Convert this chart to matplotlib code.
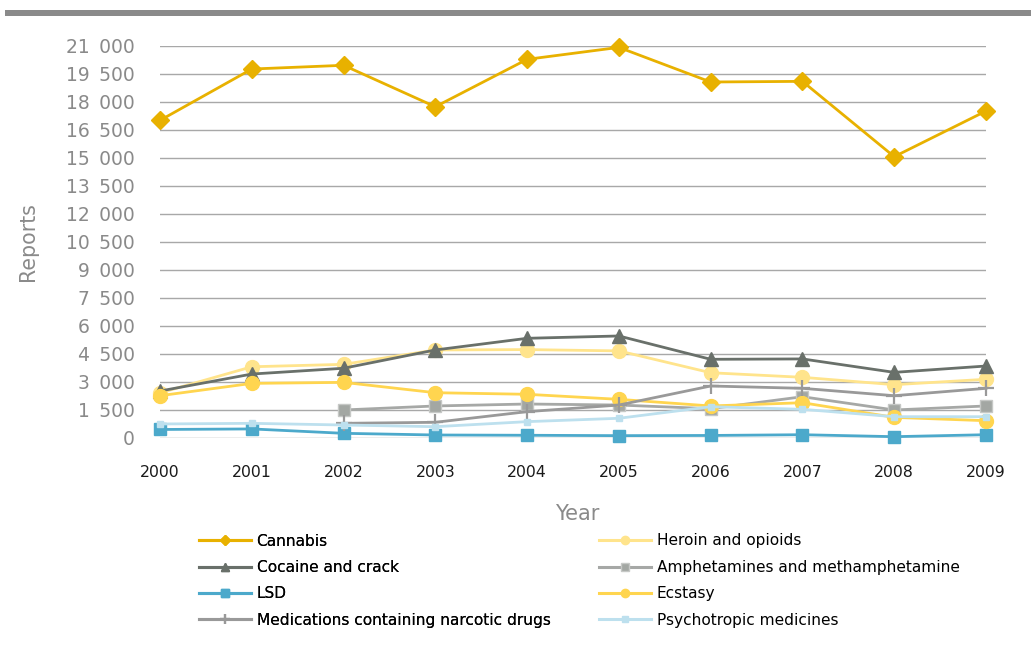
import numpy as np
import matplotlib
matplotlib.use("Agg")
import matplotlib.pyplot as plt
from matplotlib.lines import Line2D
from matplotlib.patches import Rectangle
from matplotlib.ticker import FuncFormatter, MultipleLocator

plt.rcParams['font.family'] = ['DejaVu Sans']

years = [2000, 2001, 2002, 2003, 2004, 2005, 2006, 2007, 2008, 2009]

cannabis = [17000, 19750, 19950, 17730, 20270, 20910, 19055, 19090, 15055, 17500]
heroin = [2400, 3800, 3930, 4700, 4720, 4650, 3480, 3235, 2840, 3130]
cocaine = [2500, 3410, 3720, 4700, 5325, 5450, 4200, 4220, 3500, 3840]
amphetamines = [np.nan, np.nan, 1485, 1700, 1805, 1750, 1555, 2195, 1485, 1700]
lsd = [440, 470, 235, 145, 130, 110, 120, 160, 55, 160]
ecstasy = [2250, 2910, 2965, 2410, 2325, 2055, 1700, 1875, 1090, 910]
medications = [np.nan, np.nan, 770, 825, 1395, 1750, 2770, 2645, 2250, 2645]
psychotropic = [735, 770, 680, 590, 860, 1040, 1660, 1520, 1125, 1125]

series = [
    ("Cannabis", cannabis, dict(color="#E8B100", marker="D", ms=9, mfc="#E8B100", mec="#E8B100")),
    ("Heroin and opioids", heroin, dict(color="#FFE48C", marker="o", ms=10, mfc="#FFE48C", mec="#FFE48C")),
    ("Cocaine and crack", cocaine, dict(color="#69706A", marker="^", ms=10, mfc="#69706A", mec="#69706A")),
    ("Amphetamines and methamphetamine", amphetamines, dict(color="#A6A8A6", marker="s", ms=9, mfc="#A3A7A3", mec="#C6C8C6")),
    ("LSD", lsd, dict(color="#4CA9CB", marker="s", ms=9, mfc="#4CA9CB", mec="#4CA9CB")),
    ("Ecstasy", ecstasy, dict(color="#FFD54F", marker="o", ms=10, mfc="#FFD54F", mec="#FFD54F")),
    ("Medications containing narcotic drugs", medications, dict(color="#999999", marker="+", ms=12, mew=1.6)),
    ("Psychotropic medicines", psychotropic, dict(color="#BDE0EE", marker="s", ms=4, mfc="#BDE0EE", mec="#BDE0EE")),
]

fig = plt.figure(figsize=(10.31, 6.53), dpi=100)
W, H = 1031, 653
ax = fig.add_axes([160 / W, 1 - 437.7 / H, (986 - 160) / W, (437.7 - 45.7) / H])

for name, vals, style in series:
    ax.plot(years, vals, lw=2.0, label=name, clip_on=False, **style)

ax.set_xlim(2000, 2009)
ax.set_ylim(0, 21000)
ax.set_xticks(years)
ax.yaxis.set_major_locator(MultipleLocator(1500))
ax.yaxis.set_major_formatter(FuncFormatter(lambda v, p: f"{int(v):,}".replace(",", "\u2002")))
ax.grid(axis="y", color="#A8A8A8", lw=1.0)
ax.set_axisbelow(True)
for s in ax.spines.values():
    s.set_visible(False)
ax.tick_params(axis="both", length=0)
ax.tick_params(axis="y", labelsize=13.5, labelcolor="#8A8A8A", pad=18)
ax.tick_params(axis="x", labelsize=11.3, labelcolor="#1A1A1A", pad=20)

ax.set_ylabel("Reports", fontsize=14.8, color="#8A8A8A")
ax.yaxis.set_label_coords((38 - 160) / (986 - 160), (437.7 - 241.7) / (437.7 - 45.7))
ax.set_xlabel("Year", fontsize=15, color="#8A8A8A")
ax.xaxis.set_label_coords((577 - 160) / (986 - 160), -(504 - 437.7) / (437.7 - 45.7))

# top banner
fig.add_artist(Rectangle((5 / W, 1 - 15.7 / H), 1 - 5 / W, 5.7 / H,
                         transform=fig.transFigure, color="#8A8A8A", lw=0))

# legend: two columns of four entries each
def legend_handle(style):
    st = dict(style)
    if st.get("marker") in ("D", "o", "^", "s"):
        st["ms"] = max(4, st["ms"] * 0.6)
    elif st.get("marker") == "+":
        st["ms"] = 7
    return Line2D([], [], lw=2.2, **st)

left_idx = [0, 2, 4, 6]
right_idx = [1, 3, 5, 7]
leg_kw = dict(frameon=False, fontsize=11.1, handlelength=3.4, handletextpad=0.33,
              labelspacing=0.74, borderpad=0, borderaxespad=0, loc="upper left")
leg1 = fig.legend([legend_handle(series[i][2]) for i in left_idx],
                  [series[i][0] for i in left_idx],
                  bbox_to_anchor=(199 / W, 1 - 533.5 / H), **leg_kw)
fig.add_artist(leg1)
fig.legend([legend_handle(series[i][2]) for i in right_idx],
           [series[i][0] for i in right_idx],
           bbox_to_anchor=(599 / W, 1 - 533.5 / H), **leg_kw)

fig.savefig("out.png", dpi=100)
